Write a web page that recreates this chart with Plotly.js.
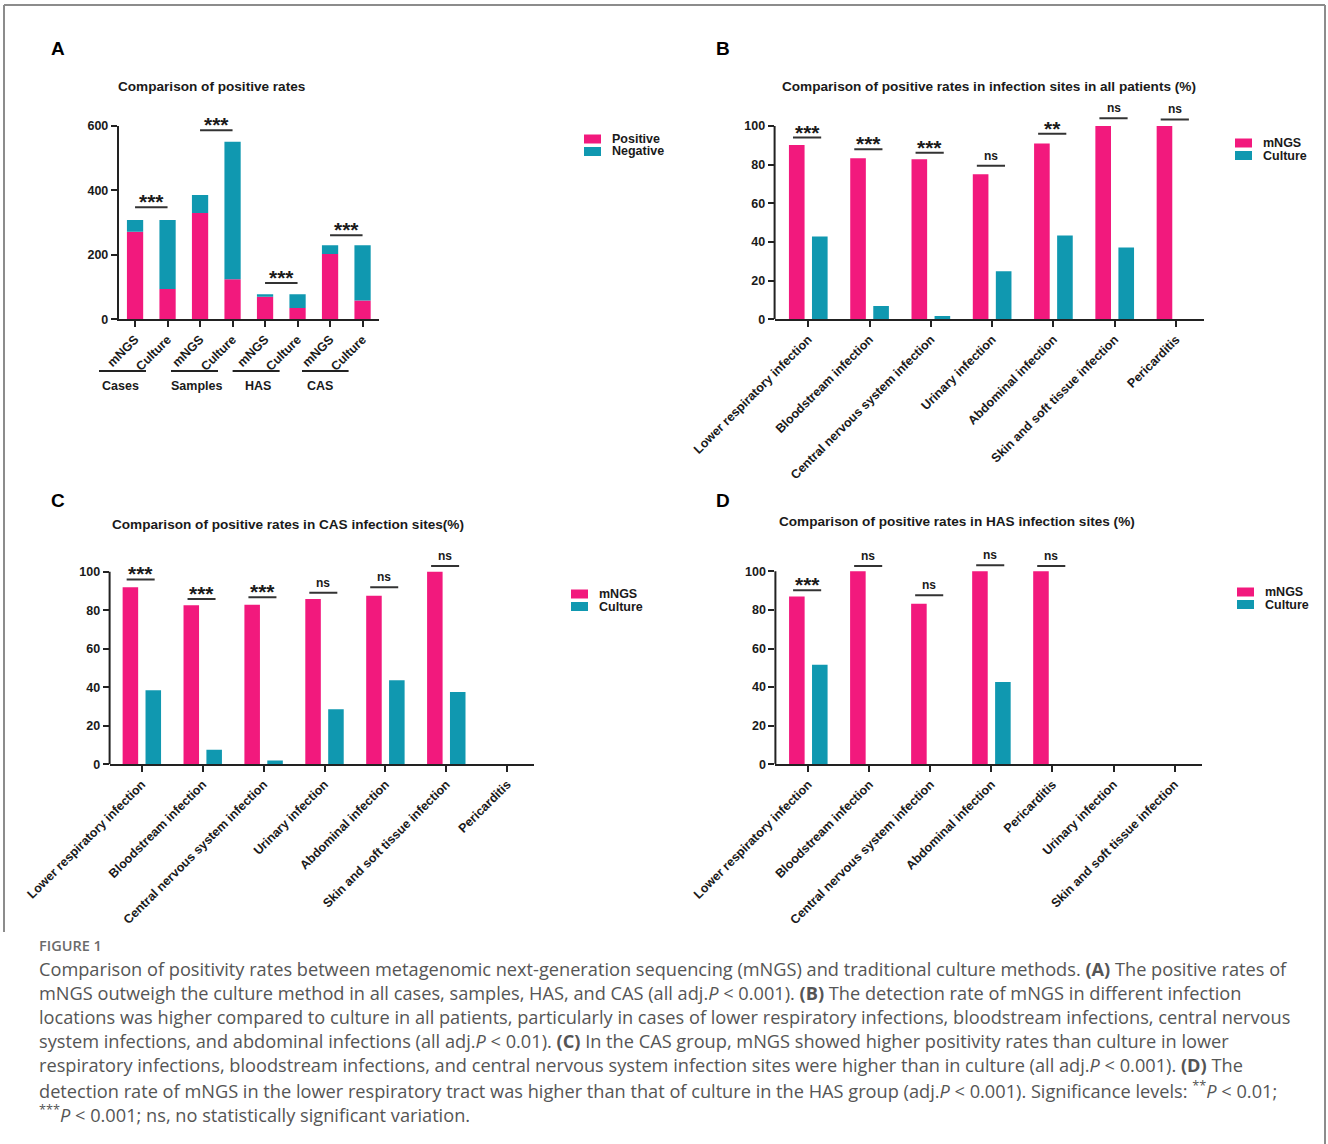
<!DOCTYPE html>
<html><head><meta charset="utf-8">
<script src="https://cdn.plot.ly/plotly-3.0.1.min.js"></script>
<style>html,body{margin:0;padding:0;background:#fff}#chart{width:1328px;height:1144px}</style>
</head><body><div id="chart"></div>
<script>
// ---------------- DATA ----------------
const aLabels = ['mNGS','Culture','mNGS','Culture','mNGS','Culture','mNGS','Culture'];
const aGroups = ['Cases','Samples','HAS','CAS'];
const aSeries = ['Positive','Negative'];
const aPositive = [272, 94, 330, 124, 70, 35, 203, 58];
const aNegative = [36, 214, 56, 427, 8, 43, 27, 172];
const aSig = ['***','***','***','***'];
const aSigY = [348, 587, 113, 261];

const methods = ['mNGS','Culture'];
const sitesBC = ['Lower respiratory infection','Bloodstream infection','Central nervous system infection','Urinary infection','Abdominal infection','Skin and soft tissue infection','Pericarditis'];
const bMNGS = [90.2, 83.3, 82.8, 75.0, 91.0, 100, 100];
const bCulture = [42.9, 6.9, 1.7, 24.8, 43.4, 37.2, 0];
const bSig = ['***','***','***','ns','**','ns','ns'];
const bSigY = [94, 88, 86.2, 79.5, 96, 104, 103.4];

const cMNGS = [92.0, 82.6, 82.8, 85.9, 87.5, 100, null];
const cCulture = [38.4, 7.5, 1.9, 28.5, 43.6, 37.5, null];
const cSig = ['***','***','***','ns','ns','ns', null];
const cSigY = [96, 85.9, 86.8, 89.1, 92, 103, null];

const sitesD = ['Lower respiratory infection','Bloodstream infection','Central nervous system infection','Abdominal infection','Pericarditis','Urinary infection','Skin and soft tissue infection'];
const dMNGS = [87.0, 100, 83.2, 100, 100, null, null];
const dCulture = [51.6, 0, 0, 42.7, 0, null, null];
const dSig = ['***','ns','ns','ns','ns', null, null];
const dSigY = [90.2, 102.8, 87.6, 103.1, 102.8, null, null];

const titles = ['Comparison of positive rates','Comparison of positive rates in infection sites in all patients (%)','Comparison of positive rates in CAS infection sites(%)','Comparison of positive rates in HAS infection sites (%)'];
const panelLetters = ['A','B','C','D'];
const captionHead = 'FIGURE 1';
const captionLines = [
 'Comparison of positivity rates between metagenomic next-generation sequencing (mNGS) and traditional culture methods. <b>(A)</b> The positive rates of',
 'mNGS outweigh the culture method in all cases, samples, HAS, and CAS (all adj.<i>P</i> &lt; 0.001). <b>(B)</b> The detection rate of mNGS in different infection',
 'locations was higher compared to culture in all patients, particularly in cases of lower respiratory infections, bloodstream infections, central nervous',
 'system infections, and abdominal infections (all adj.<i>P</i> &lt; 0.01). <b>(C)</b> In the CAS group, mNGS showed higher positivity rates than culture in lower',
 'respiratory infections, bloodstream infections, and central nervous system infection sites were higher than in culture (all adj.<i>P</i> &lt; 0.001). <b>(D)</b> The',
 'detection rate of mNGS in the lower respiratory tract was higher than that of culture in the HAS group (adj.<i>P</i> &lt; 0.001). Significance levels: <sup>**</sup><i>P</i> &lt; 0.01;',
 '<sup>***</sup><i>P</i> &lt; 0.001; ns, no statistically significant variation.'
];

// ---------------- STYLE / LAYOUT ----------------
const W = 1328, H = 1144;
const PX = x => x / W, PY = y => 1 - y / H;
const PINK = '#F2197D', TEAL = '#1098B0', AX = '#222222', TXT = '#1a1a1a';
const FONT = '"Liberation Sans", Arial, sans-serif';
const CAPFONT = '"Open Sans", "Noto Sans", sans-serif';

const idx = n => Array.from({length: n}, (_, i) => i);

function xAxis(dom, range, n, ticktext, anchor) {
  return {domain: [PX(dom[0]), PX(dom[1])], range: range, anchor: anchor,
    tickmode: 'array', tickvals: idx(n), ticktext: ticktext,
    showline: true, linecolor: AX, linewidth: 2, ticks: 'outside', ticklen: 6, tickwidth: 2, tickcolor: AX,
    tickangle: -45, tickfont: {family: FONT, size: 12.5, weight: 700, color: TXT},
    showgrid: false, zeroline: false, fixedrange: true};
}
function yAxis(dom, range, tickvals, anchor, showline) {
  return {domain: [PY(dom[0]), PY(dom[1])], range: range, anchor: anchor,
    tickmode: 'array', tickvals: tickvals,
    showline: showline, linecolor: AX, linewidth: 2, ticks: 'outside', ticklen: 6, tickwidth: 2, tickcolor: AX,
    tickfont: {family: FONT, size: 12.5, weight: 700, color: TXT},
    showgrid: false, zeroline: false, fixedrange: true};
}

const traces = [];
const annotations = [];
const shapes = [];
const STAR = {family: FONT, size: 21, weight: 700, color: TXT};

// Panel A: stacked bars
traces.push({type: 'bar', name: aSeries[0], x: idx(aLabels.length), y: aPositive, width: 0.5,
  marker: {color: PINK, line: {width: 0}}, xaxis: 'x', yaxis: 'y', showlegend: false});
traces.push({type: 'bar', name: aSeries[1], x: idx(aLabels.length), y: aNegative, base: aPositive, width: 0.5,
  marker: {color: TEAL, line: {width: 0}}, xaxis: 'x', yaxis: 'y', showlegend: false});
{
  const sx = [], sy = [];
  aSig.forEach((s, k) => {
    sx.push(2 * k, 2 * k + 1, null); sy.push(aSigY[k], aSigY[k], null);
    annotations.push({xref: 'x', yref: 'y', x: 2 * k + 0.5, y: aSigY[k], text: s, showarrow: false,
      yanchor: 'bottom', yshift: -8, font: STAR});
  });
  traces.push({type: 'scatter', mode: 'lines', x: sx, y: sy, xaxis: 'x', yaxis: 'y', cliponaxis: false,
    line: {color: '#333', width: 2}, hoverinfo: 'skip', showlegend: false});
}

// Panels B, C, D: grouped bars
function groupedPanel(xa, ya, mngs, cult, sig, sigY) {
  const xs = idx(mngs.length);
  traces.push({type: 'bar', name: methods[0], x: xs, y: mngs, width: 0.255, offset: -0.316,
    marker: {color: PINK, line: {width: 0}}, xaxis: xa, yaxis: ya, showlegend: false});
  traces.push({type: 'bar', name: methods[1], x: xs, y: cult, width: 0.255, offset: 0.06,
    marker: {color: TEAL, line: {width: 0}}, xaxis: xa, yaxis: ya, showlegend: false});
  const sx = [], sy = [];
  sig.forEach((s, i) => {
    if (s === null) return;
    sx.push(i - 0.25, i + 0.21, null); sy.push(sigY[i], sigY[i], null);
    const stars = s.indexOf('*') >= 0;
    annotations.push({xref: xa, yref: ya, x: i - 0.02, y: sigY[i], text: s, showarrow: false,
      yanchor: 'bottom', yshift: stars ? -8 : 1,
      font: stars ? STAR : {family: FONT, size: 12, weight: 700, color: TXT}});
  });
  traces.push({type: 'scatter', mode: 'lines', x: sx, y: sy, xaxis: xa, yaxis: ya, cliponaxis: false,
    line: {color: '#333', width: 2}, hoverinfo: 'skip', showlegend: false});
  // y-axis line from 0 to 100
  shapes.push({type: 'line', xref: xa + ' domain', yref: ya, x0: 0, x1: 0, y0: 0, y1: 100,
    line: {color: AX, width: 2}});
}
groupedPanel('x2', 'y2', bMNGS, bCulture, bSig, bSigY);
groupedPanel('x3', 'y3', cMNGS, cCulture, cSig, cSigY);
groupedPanel('x4', 'y4', dMNGS, dCulture, dSig, dSigY);

// Group brackets under panel A
const groupLines = [[99, 146], [171, 218], [232.6, 279.6], [302, 348.6]];
const groupText = [100, 168.6, 243, 305];
aGroups.forEach((g, k) => {
  shapes.push({type: 'line', xref: 'paper', yref: 'paper', x0: PX(groupLines[k][0]), x1: PX(groupLines[k][1]),
    y0: PY(371), y1: PY(371), line: {color: AX, width: 2}});
  annotations.push({xref: 'paper', yref: 'paper', x: PX(groupText[k]), y: PY(386), xanchor: 'left', yanchor: 'middle',
    text: g, showarrow: false, font: {family: FONT, size: 12.5, weight: 700, color: TXT}});
});

// Titles & panel letters
const titlePos = [[116, 87], [780, 86], [110, 524], [777, 521]];
const letterPos = [[49, 49], [714, 49], [49, 500], [714, 500]];
titles.forEach((t, i) => {
  annotations.push({xref: 'paper', yref: 'paper', x: PX(titlePos[i][0]), y: PY(titlePos[i][1]), xanchor: 'left', yanchor: 'middle',
    text: t, showarrow: false, font: {family: FONT, size: 13.6, weight: 700, color: TXT}});
  annotations.push({xref: 'paper', yref: 'paper', x: PX(letterPos[i][0]), y: PY(letterPos[i][1]), xanchor: 'left', yanchor: 'middle',
    text: panelLetters[i], showarrow: false, font: {family: FONT, size: 19, weight: 700, color: '#000'}});
});

// Legends (swatch + label)
const legendPos = [[584, 139, aSeries], [1235, 143, methods], [571, 594, methods], [1237, 592, methods]];
legendPos.forEach(([lx, ly, names]) => {
  names.forEach((nm, j) => {
    const cy = ly + j * 12.5;
    shapes.push({type: 'rect', xref: 'paper', yref: 'paper', x0: PX(lx), x1: PX(lx + 17), y0: PY(cy - 4.5), y1: PY(cy + 4.5),
      fillcolor: j === 0 ? PINK : TEAL, line: {width: 0}});
    annotations.push({xref: 'paper', yref: 'paper', x: PX(lx + 26), y: PY(cy), xanchor: 'left', yanchor: 'middle',
      text: nm, showarrow: false, font: {family: FONT, size: 12.5, weight: 700, color: TXT}});
  });
});

// Frame
[[4, 5, 1325, 5], [4, 5, 4, 932], [1325, 5, 1325, 1144]].forEach(([x0, y0, x1, y1]) => {
  shapes.push({type: 'line', xref: 'paper', yref: 'paper', x0: PX(x0), y0: PY(y0), x1: PX(x1), y1: PY(y1),
    line: {color: '#8c8c8c', width: 2}});
});

// Caption
annotations.push({xref: 'paper', yref: 'paper', x: PX(37), y: PY(945), xanchor: 'left', yanchor: 'middle',
  text: captionHead, showarrow: false, font: {family: CAPFONT, size: 14.5, weight: 600, color: '#6b6b6b'}});
captionLines.forEach((t, i) => {
  annotations.push({xref: 'paper', yref: 'paper', x: PX(37), y: PY(969 + 24 * i), xanchor: 'left', yanchor: 'middle',
    text: t, showarrow: false, font: {family: CAPFONT, size: 18.2, color: '#555'}});
});

const layout = {
  width: W, height: H, autosize: false, margin: {l: 0, r: 0, t: 0, b: 0},
  paper_bgcolor: '#fff', plot_bgcolor: 'rgba(0,0,0,0)', barmode: 'overlay', showlegend: false,
  font: {family: FONT, color: TXT},
  xaxis: xAxis([118.8, 378.8], [-0.5, 7.5], aLabels.length, aLabels, 'y'),
  yaxis: yAxis([319.3, 126], [0, 600], [0, 200, 400, 600], 'x', true),
  xaxis2: xAxis([774.6, 1203.6], [-0.55, 6.45], sitesBC.length, sitesBC, 'y2'),
  yaxis2: yAxis([319.3, 106.7], [0, 110], [0, 20, 40, 60, 80, 100], 'x2', false),
  xaxis3: xAxis([109.6, 534], [-0.53, 6.44], sitesBC.length, sitesBC, 'y3'),
  yaxis3: yAxis([764.2, 552.5], [0, 110], [0, 20, 40, 60, 80, 100], 'x3', false),
  xaxis4: xAxis([775.4, 1202], [-0.54, 6.45], sitesD.length, sitesD, 'y4'),
  yaxis4: yAxis([764.3, 552], [0, 110], [0, 20, 40, 60, 80, 100], 'x4', false),
  annotations: annotations, shapes: shapes
};

Plotly.newPlot('chart', traces, layout, {displayModeBar: false, staticPlot: true});
</script>
</body></html>
